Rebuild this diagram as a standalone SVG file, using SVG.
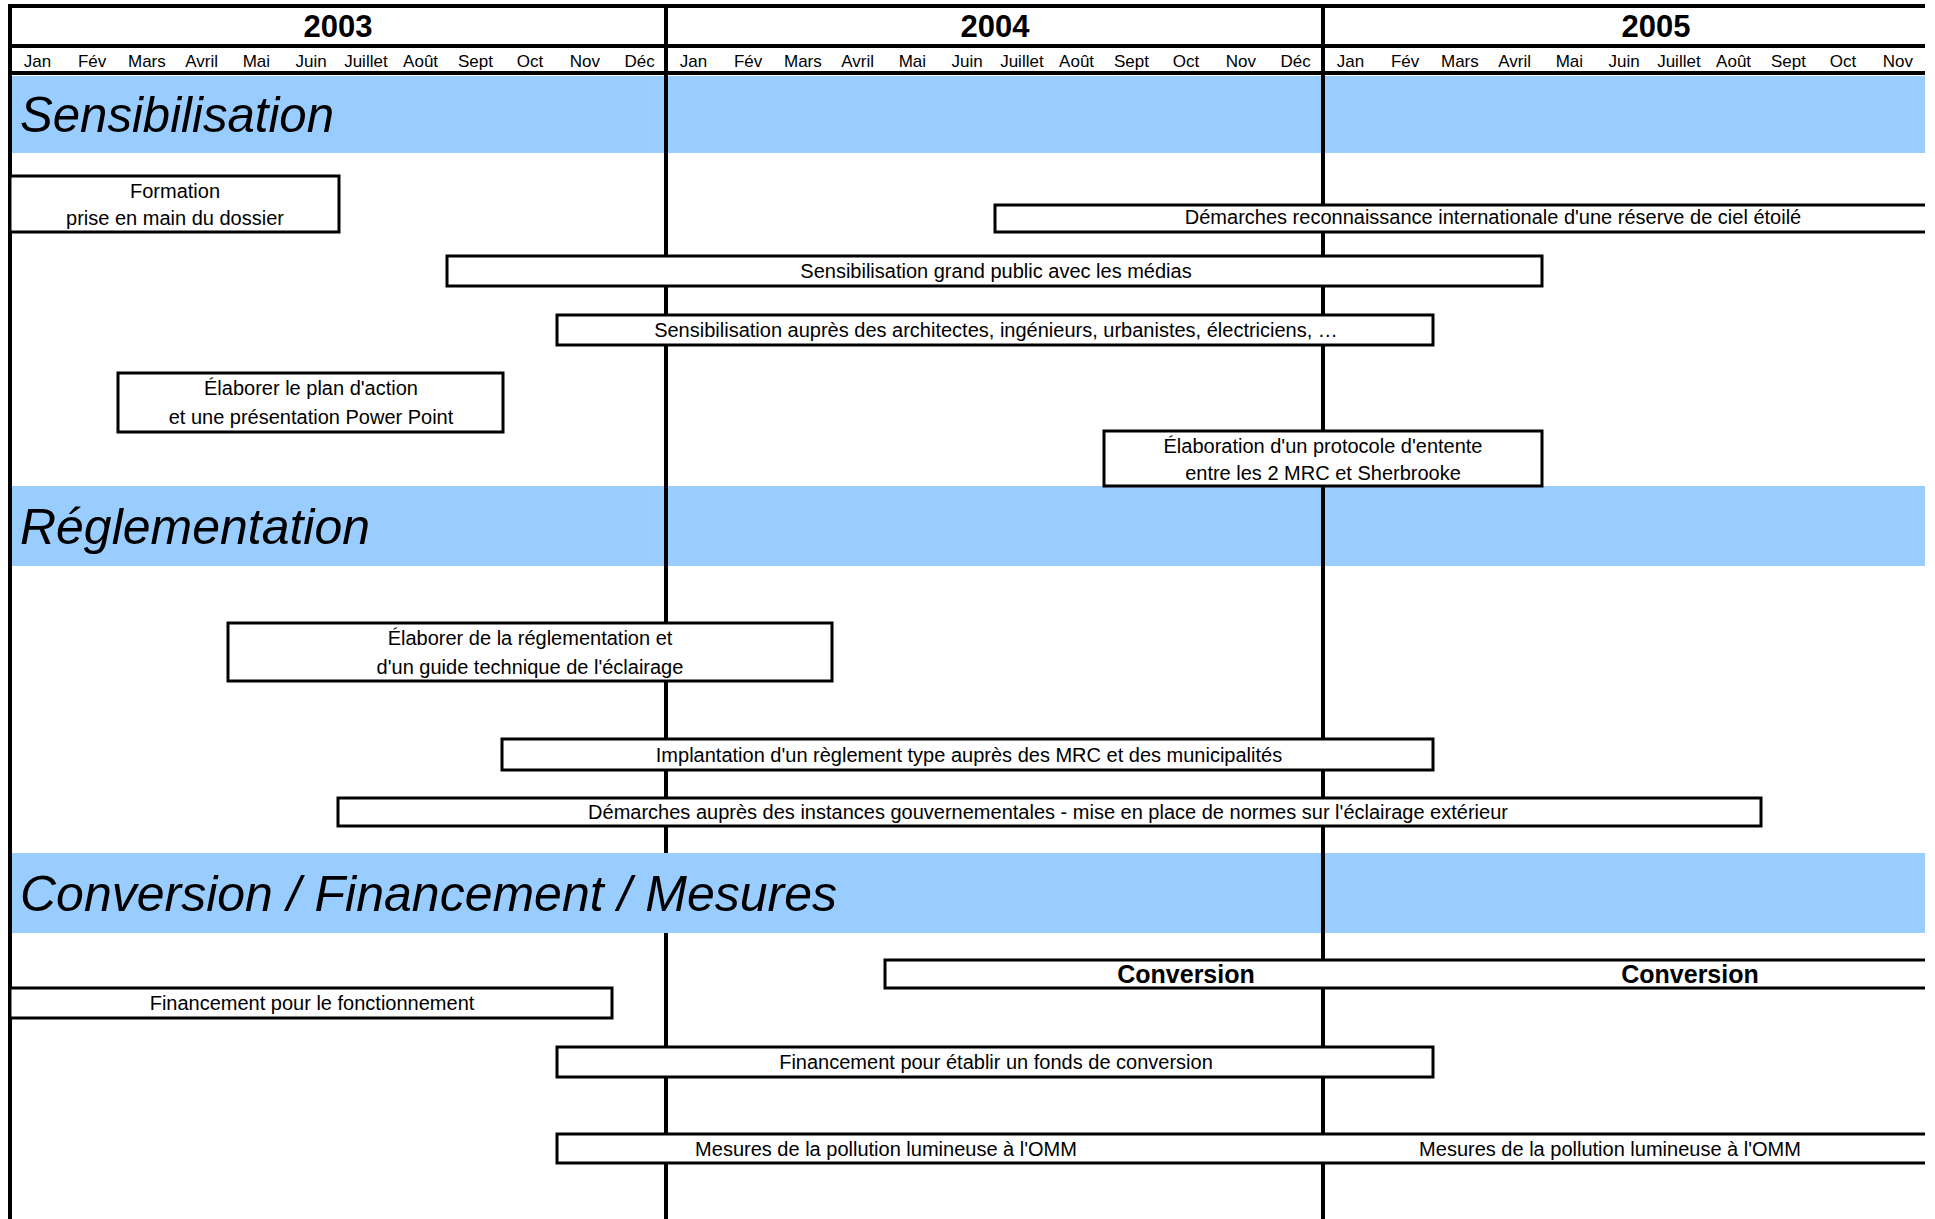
<svg xmlns="http://www.w3.org/2000/svg" width="1935" height="1219" viewBox="0 0 1935 1219">
<style>
.bg{fill:#fff}
.band{fill:#99ccff}
.ln{stroke:#000;stroke-width:4;fill:none}
.box{fill:#fff;stroke:#000;stroke-width:3}
.t{font-family:'Liberation Sans',Arial,sans-serif;font-size:20px;text-anchor:middle;fill:#000}
.m{font-family:'Liberation Sans',Arial,sans-serif;font-size:17px;text-anchor:middle;fill:#000}
.y{font-family:'Liberation Sans',Arial,sans-serif;font-size:31px;font-weight:bold;text-anchor:middle;fill:#000}
.b{font-family:'Liberation Sans',Arial,sans-serif;font-size:25px;font-weight:bold;text-anchor:middle;fill:#000}
.h{font-family:'Liberation Sans',Arial,sans-serif;font-size:50px;font-style:italic;fill:#000}
</style>
<rect class="bg" x="0" y="0" width="1935" height="1219"/>

<g id="bands">
<rect class="band" x="10" y="76" width="1915" height="77"/>
<rect class="band" x="10" y="486" width="1915" height="80"/>
<rect class="band" x="10" y="853" width="1915" height="80"/>
</g>

<g id="connectors">
<line class="ln" x1="10" y1="4" x2="10" y2="1219"/>
<line class="ln" x1="666" y1="4" x2="666" y2="853"/>
<line class="ln" x1="666" y1="933" x2="666" y2="1219"/>
<line class="ln" x1="1323" y1="4" x2="1323" y2="1219"/>
<line class="ln" x1="8" y1="6" x2="1925" y2="6"/>
<line class="ln" x1="8" y1="46" x2="1925" y2="46"/>
<line class="ln" x1="8" y1="73" x2="1925" y2="73"/>
</g>

<g id="titles">
<text class="h" x="20" y="132" textLength="314" lengthAdjust="spacingAndGlyphs">Sensibilisation</text>
<text class="h" x="20" y="544" textLength="350" lengthAdjust="spacingAndGlyphs">Réglementation</text>
<text class="h" x="20" y="911" textLength="817" lengthAdjust="spacingAndGlyphs">Conversion / Financement / Mesures</text>
</g>

<g id="header">
<text class="y" x="338" y="37">2003</text>
<text class="y" x="995" y="37">2004</text>
<text class="y" x="1656" y="37">2005</text>
<g id="months">
<text class="m" x="37.4" y="67">Jan</text>
<text class="m" x="92.1" y="67">Fév</text>
<text class="m" x="146.9" y="67">Mars</text>
<text class="m" x="201.6" y="67">Avril</text>
<text class="m" x="256.4" y="67">Mai</text>
<text class="m" x="311.1" y="67">Juin</text>
<text class="m" x="365.9" y="67">Juillet</text>
<text class="m" x="420.6" y="67">Août</text>
<text class="m" x="475.4" y="67">Sept</text>
<text class="m" x="530.1" y="67">Oct</text>
<text class="m" x="584.9" y="67">Nov</text>
<text class="m" x="639.6" y="67">Déc</text>
<text class="m" x="693.4" y="67">Jan</text>
<text class="m" x="748.1" y="67">Fév</text>
<text class="m" x="802.9" y="67">Mars</text>
<text class="m" x="857.6" y="67">Avril</text>
<text class="m" x="912.4" y="67">Mai</text>
<text class="m" x="967.1" y="67">Juin</text>
<text class="m" x="1021.9" y="67">Juillet</text>
<text class="m" x="1076.6" y="67">Août</text>
<text class="m" x="1131.4" y="67">Sept</text>
<text class="m" x="1186.1" y="67">Oct</text>
<text class="m" x="1240.9" y="67">Nov</text>
<text class="m" x="1295.6" y="67">Déc</text>
<text class="m" x="1350.4" y="67">Jan</text>
<text class="m" x="1405.1" y="67">Fév</text>
<text class="m" x="1459.9" y="67">Mars</text>
<text class="m" x="1514.6" y="67">Avril</text>
<text class="m" x="1569.4" y="67">Mai</text>
<text class="m" x="1624.1" y="67">Juin</text>
<text class="m" x="1678.9" y="67">Juillet</text>
<text class="m" x="1733.6" y="67">Août</text>
<text class="m" x="1788.4" y="67">Sept</text>
<text class="m" x="1843.1" y="67">Oct</text>
<text class="m" x="1897.9" y="67">Nov</text>
</g>
</g>

<g id="n-formation">
<rect class="box" x="10" y="176" width="329" height="56"/>
<text class="t" x="175" y="198">Formation</text>
<text class="t" x="175" y="225">prise en main du dossier</text>
</g>
<g id="n-reserve">
<path class="box" d="M1925,205 H995 V232 H1925"/>
<text class="t" x="1493" y="224">Démarches reconnaissance internationale d'une réserve de ciel étoilé</text>
</g>
<g id="n-grandpublic">
<rect class="box" x="447" y="256" width="1095" height="30"/>
<text class="t" x="996" y="278">Sensibilisation grand public avec les médias</text>
</g>
<g id="n-architectes">
<rect class="box" x="557" y="315" width="876" height="30"/>
<text class="t" x="996" y="337">Sensibilisation auprès des architectes, ingénieurs, urbanistes, électriciens, …</text>
</g>
<g id="n-plan">
<rect class="box" x="118" y="373" width="385" height="59"/>
<text class="t" x="311" y="395">Élaborer le plan d'action</text>
<text class="t" x="311" y="424">et une présentation Power Point</text>
</g>
<g id="n-protocole">
<rect class="box" x="1104" y="431" width="438" height="55"/>
<text class="t" x="1323" y="453">Élaboration d'un protocole d'entente</text>
<text class="t" x="1323" y="480">entre les 2 MRC et Sherbrooke</text>
</g>

<g id="n-reglementation">
<rect class="box" x="228" y="623" width="604" height="58"/>
<text class="t" x="530" y="645">Élaborer de la réglementation et</text>
<text class="t" x="530" y="674">d'un guide technique de l'éclairage</text>
</g>
<g id="n-implantation">
<rect class="box" x="502" y="739" width="931" height="31"/>
<text class="t" x="969" y="762">Implantation d'un règlement type auprès des MRC et des municipalités</text>
</g>
<g id="n-instances">
<rect class="box" x="338" y="798" width="1423" height="28"/>
<text class="t" x="1048" y="819">Démarches auprès des instances gouvernementales - mise en place de normes sur l'éclairage extérieur</text>
</g>

<g id="n-conversion">
<path class="box" d="M1925,960 H885 V988 H1925"/>
<text class="b" x="1186" y="983">Conversion</text>
<text class="b" x="1690" y="983">Conversion</text>
</g>
<g id="n-fonctionnement">
<rect class="box" x="10" y="988" width="602" height="30"/>
<text class="t" x="312" y="1010">Financement pour le fonctionnement</text>
</g>
<g id="n-fonds">
<rect class="box" x="557" y="1047" width="876" height="30"/>
<text class="t" x="996" y="1069">Financement pour établir un fonds de conversion</text>
</g>
<g id="n-mesures">
<path class="box" d="M1925,1134 H557 V1163 H1925"/>
<text class="t" x="886" y="1156">Mesures de la pollution lumineuse à l'OMM</text>
<text class="t" x="1610" y="1156">Mesures de la pollution lumineuse à l'OMM</text>
</g>
</svg>
